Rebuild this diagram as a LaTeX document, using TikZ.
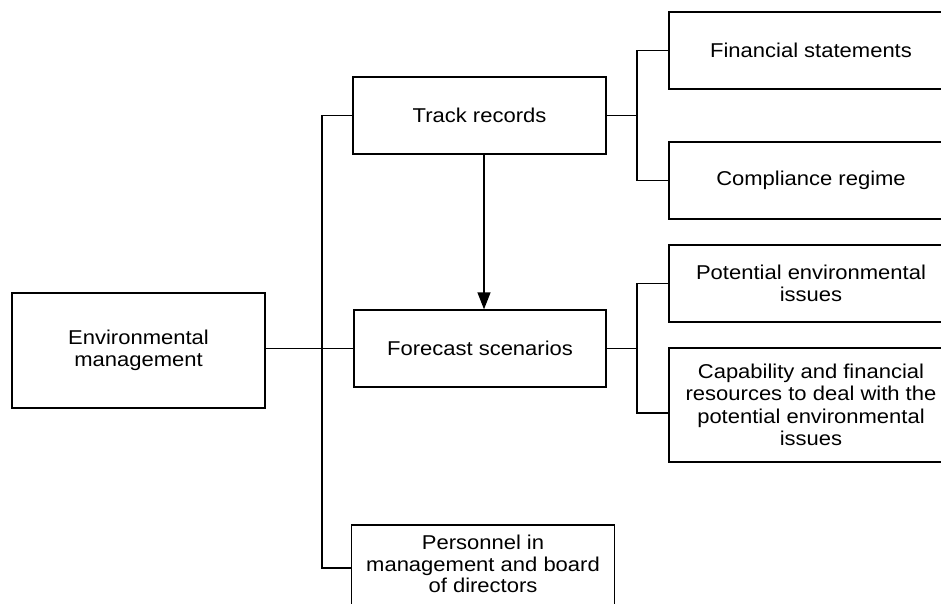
\documentclass[tikz,border=0pt]{standalone}
\usepackage{fontspec}
\setmainfont{Liberation Sans}[FakeStretch=1.1]
\usetikzlibrary{arrows.meta}
\begin{document}
\begin{tikzpicture}[x=1pt,y=-1pt,
  box/.style={draw, line width=1.4pt, align=center, inner sep=0pt,
    font=\fontsize{20}{22.5}\selectfont},
  wire/.style={line width=1.4pt},
  txt/.style={align=center, inner sep=0pt, font=\fontsize{20}{21.5}\selectfont}]
\useasboundingbox (0,0) rectangle (941,604);
\clip (0,0) rectangle (941,604);

% main boxes
\node[box, minimum width=253pt, minimum height=115pt] (env) at (138.5,350.5) {Environmental\\management};
\node[box, minimum width=253pt, minimum height=77pt] (track) at (479.5,115.5) {Track records};
\node[box, minimum width=252pt, minimum height=77pt] (fore) at (480,348.5) {Forecast scenarios};
\node[box, minimum width=263pt, minimum height=115pt] (pers) at (483,582.5) {};
\node[txt] (perstext) at (483,564) {Personnel in\\management and board\\of directors};

% right-hand boxes
\node[box, minimum width=284pt, minimum height=77pt] (fin) at (811,50.5) {Financial statements};
\node[box, minimum width=284pt, minimum height=77pt] (comp) at (811,180.5) {Compliance regime};
\node[box, minimum width=284pt, minimum height=77pt] (pot) at (811,283.5) {Potential environmental\\issues};
\node[box, minimum width=284pt, minimum height=114pt] (cap) at (811,405) {Capability and financial\\resources to deal with the\\potential environmental\\issues};

% junction points
\coordinate (tt) at (322,115.5);
\coordinate (tp) at (322,568);
\coordinate (tj) at (637,115.5);
\coordinate (fj) at (637,348.5);
\coordinate (capin) at (669,413);
\coordinate (arrtop) at (484,154);

% trunk from the main box
\draw[wire] (env.east |- fore.west) -- (fore.west);
\draw[wire] (track.west) -- (tt) -- (tp) -- (tp -| pers.west);

% track records branch
\draw[wire] (track.east) -- (tj);
\draw[wire] (fin.west) -| (tj) |- (comp.west);

% forecast branch
\draw[wire] (fore.east) -- (fj);
\draw[wire] (pot.west) -| (fj) |- (capin);

% track records feed the forecast
\draw[wire, -{Triangle[length=17pt,width=13pt]}] (arrtop) -- (arrtop |- fore.north);
\end{tikzpicture}
\end{document}
